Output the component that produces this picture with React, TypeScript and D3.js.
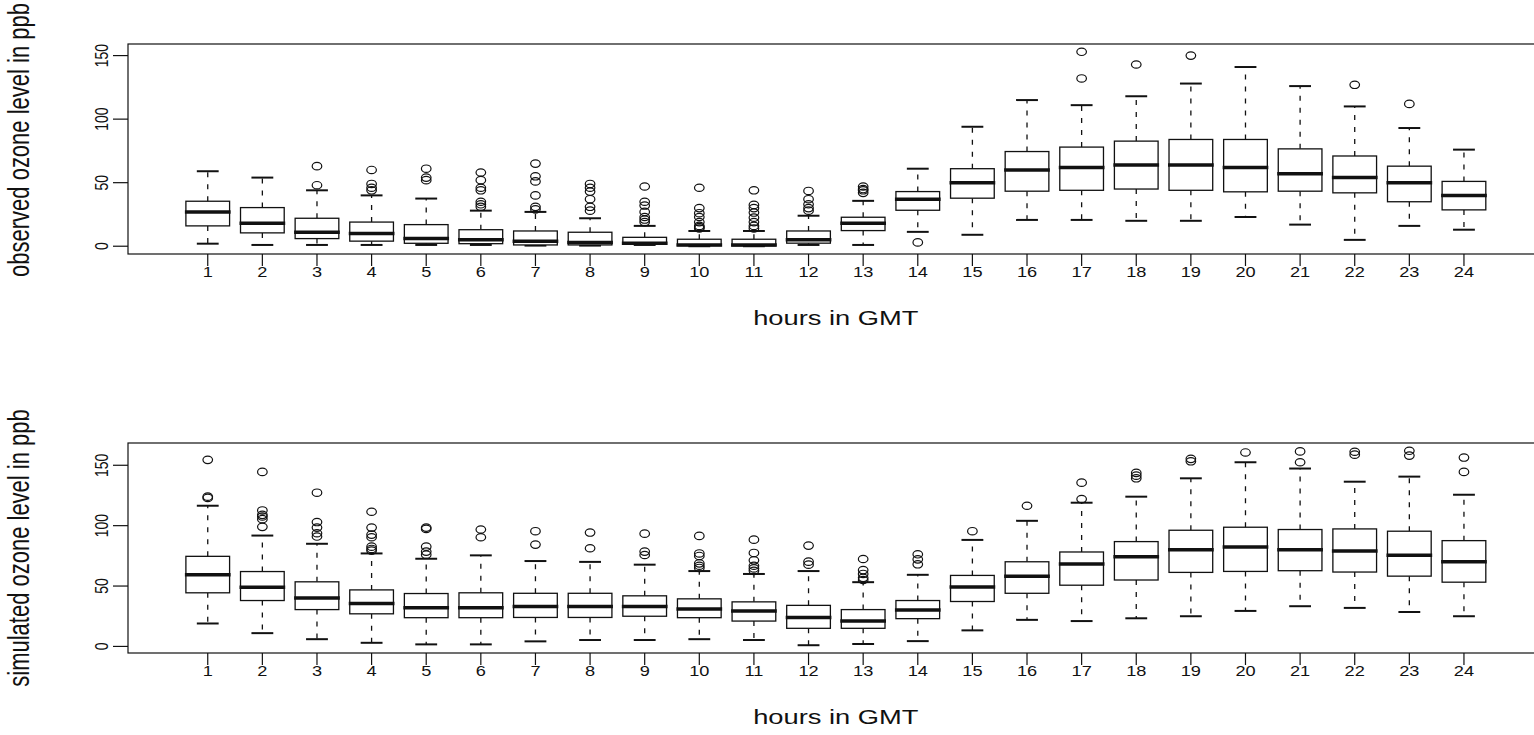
import React from "react";
import * as d3 from "d3";

const hours = ["1","2","3","4","5","6","7","8","9","10","11","12","13","14","15","16","17","18","19","20","21","22","23","24"];
const yTicks = [0, 50, 100, 150];

// observed
const obsLow = [2, 1, 1, 1, 1, 1, 0.5, 0.5, 1, 0, 0, 1, 1, 11.3, 9, 20.7, 20.7, 20, 20, 23, 17, 5, 16, 13];
const obsQ1 = [16, 10.5, 6, 4, 2.3, 2, 1, 1, 1.5, 0.5, 0.3, 2.4, 12.3, 28.3, 37.8, 43.3, 44, 45, 44, 42.8, 43.3, 42, 35, 28.6];
const obsMed = [27, 18, 11, 10, 6, 5, 4, 3, 2.4, 1, 1, 5, 18, 37, 50, 60, 62, 64, 64, 62, 57, 54, 50, 40];
const obsQ3 = [35.4, 30.4, 22, 19, 17, 13, 12, 11, 7, 5.5, 5.5, 12, 22.8, 43, 61, 74.5, 78, 82.7, 84, 84, 76.6, 71, 63, 51];
const obsHigh = [59, 54, 44, 40, 37.5, 28, 27, 22, 16, 12, 12, 24, 35.7, 61, 94, 115, 111, 118, 128, 141, 126, 110, 93, 76];
const obsOut = [
  [], [], [63, 48], [60, 49, 46, 44], [61, 54, 52], [58, 52, 46, 44, 35, 33, 31],
  [65, 55, 51, 40, 31, 29], [49, 46, 43, 37, 31, 28], [47, 35, 32, 27, 23, 21, 19],
  [46, 30, 26, 23, 19, 16, 15, 14], [44, 32.5, 30, 26.5, 22.5, 19, 16, 14],
  [43.5, 37, 33, 30, 28], [47, 45, 44, 42], [3], [], [], [153, 132], [143], [150], [], [], [127], [112], []
];

// simulated
const simLow = [19, 11, 6, 3, 1.7, 1.7, 4.2, 5.3, 5.3, 6, 5.3, 1, 2, 4.4, 13.3, 22, 21, 23.3, 25, 29.4, 33.3, 31.9, 28.5, 25];
const simQ1 = [44.4, 38, 30.5, 27, 23.8, 23.8, 24, 24, 25, 23.8, 21, 15, 15, 23, 37.2, 44, 50.7, 55, 61.3, 62.1, 62.7, 61.6, 58.2, 53.2];
const simMed = [59.3, 49, 40, 35.5, 32, 32, 33, 33, 33, 31, 29.4, 24, 21, 30.2, 49.3, 58.2, 68.2, 74.3, 80.1, 82.4, 80.1, 79, 75.4, 70.1];
const simQ3 = [74.6, 62, 53.5, 46.8, 43.8, 44.4, 44, 44, 41.9, 39.4, 36.9, 34, 30.5, 38, 58.8, 70.1, 78.2, 86.8, 96.2, 98.7, 96.8, 97.3, 95.4, 87.6];
const simHigh = [116.5, 91.8, 85, 77, 72.6, 75.4, 70.7, 70, 67.7, 62.4, 60, 62.4, 53.2, 59.3, 88.2, 104, 119, 124, 139.2, 152.5, 147.3, 136.4, 140.6, 125.6];
const simOut = [
  [154.5, 124, 123], [144.5, 112.6, 109, 107.6, 105.4, 99], [127.3, 103, 98.4, 93.7, 91],
  [111.5, 98.4, 92.6, 90.4, 82.6, 80.7, 79.3], [98.4, 97.3, 82.6, 78.5, 76], [96.8, 90.4],
  [95.4, 84.3], [94.3, 81.3], [93.4, 78.5, 75.7], [91.5, 77, 74.9, 68.8, 66.8, 65],
  [88.4, 77.4, 71.3, 66.8, 64.6, 62.6], [83.5, 70.2, 67.7], [72.4, 63.2, 60, 56.8, 55],
  [76.3, 72.1, 68], [95.4], [116.5], [135.6, 122], [143.7, 141.4, 139.2], [155.3, 153.3],
  [160.6], [161.5, 152.5], [161.2, 158.8], [162, 158], [156.4, 144.5]
];

const FONT = "'Liberation Sans', Arial, Helvetica, sans-serif";
const INK = "#111";
const SX = 1.3;

type PanelProps = {
  top: number; bottom: number; ylab: string; ylabY: number;
  low: number[]; q1: number[]; med: number[]; q3: number[]; high: number[]; out: number[][];
};

const LEFT = 128;
const RIGHT = 1543.7;

function Panel(p: PanelProps) {
  const n = hours.length;
  const x = d3.scaleLinear().domain([0.5 - 0.04 * n, n + 0.5 + 0.04 * n]).range([LEFT, RIGHT]);
  const all = [...p.low, ...p.high, ...p.out.flat()];
  const [mn, mx] = d3.extent(all) as [number, number];
  const pad = (mx - mn) * 0.04;
  const y = d3.scaleLinear().domain([mn - pad, mx + pad]).range([p.bottom, p.top]);
  const step = x(2) - x(1);
  const bw = step * 0.8;
  const sw = bw * 0.5;
  return (
    <g>
      {hours.map((h, i) => {
        const cx = x(i + 1);
        return (
          <g key={h}>
            <line x1={cx} x2={cx} y1={y(p.q3[i])} y2={y(p.high[i])} stroke={INK} strokeWidth={1.3} strokeDasharray="5,7" />
            <line x1={cx} x2={cx} y1={y(p.q1[i])} y2={y(p.low[i])} stroke={INK} strokeWidth={1.3} strokeDasharray="5,7" />
            <line x1={cx - sw / 2} x2={cx + sw / 2} y1={y(p.high[i])} y2={y(p.high[i])} stroke={INK} strokeWidth={2} />
            <line x1={cx - sw / 2} x2={cx + sw / 2} y1={y(p.low[i])} y2={y(p.low[i])} stroke={INK} strokeWidth={2} />
            <rect x={cx - bw / 2} y={y(p.q3[i])} width={bw} height={y(p.q1[i]) - y(p.q3[i])} fill="white" stroke={INK} strokeWidth={1.3} />
            <line x1={cx - bw / 2 - 1} x2={cx + bw / 2 + 1} y1={y(p.med[i])} y2={y(p.med[i])} stroke={INK} strokeWidth={3.5} />
            {p.out[i].map((v, j) => (
              <ellipse key={j} cx={cx} cy={y(v)} rx={4.8} ry={3.7} fill="none" stroke={INK} strokeWidth={1.2} />
            ))}
          </g>
        );
      })}
      <rect x={LEFT} y={p.top} width={RIGHT - LEFT} height={p.bottom - p.top} fill="none" stroke={INK} strokeWidth={1.2} />
      {yTicks.map((t) => (
        <g key={t}>
          <line x1={LEFT - 15} x2={LEFT} y1={y(t)} y2={y(t)} stroke={INK} strokeWidth={1.2} />
          <text transform={`translate(${LEFT - 27},${y(t)}) scale(${SX},1) rotate(-90)`} textAnchor="middle" dominantBaseline="central" fontSize={14} fontFamily={FONT} fill={INK}>{t}</text>
        </g>
      ))}
      {hours.map((h, i) => (
        <g key={"t" + h}>
          <line x1={x(i + 1)} x2={x(i + 1)} y1={p.bottom} y2={p.bottom + 12} stroke={INK} strokeWidth={1.2} />
          <text transform={`translate(${x(i + 1)},${p.bottom + 18}) scale(${SX},1)`} textAnchor="middle" dominantBaseline="central" fontSize={14} fontFamily={FONT} fill={INK}>{h}</text>
        </g>
      ))}
      <text transform={`translate(${(LEFT + RIGHT) / 2},${p.bottom + 64}) scale(${SX},1)`} textAnchor="middle" dominantBaseline="central" fontSize={21} fontFamily={FONT} fill={INK}>hours in GMT</text>
      <text transform={`translate(19,${p.ylabY}) scale(${SX},1) rotate(-90)`} textAnchor="middle" dominantBaseline="central" fontSize={22} fontFamily={FONT} fill={INK}>{p.ylab}</text>
    </g>
  );
}

export default function App() {
  return (
    <svg width={1534} height={735} style={{ position: "absolute", left: 0, top: 0, background: "white" }}>
      <rect width={1534} height={735} fill="white" />
      <Panel top={44} bottom={254} ylabY={140} ylab="observed ozone level in ppb" low={obsLow} q1={obsQ1} med={obsMed} q3={obsQ3} high={obsHigh} out={obsOut} />
      <Panel top={443} bottom={653} ylabY={548} ylab="simulated ozone level in ppb" low={simLow} q1={simQ1} med={simMed} q3={simQ3} high={simHigh} out={simOut} />
    </svg>
  );
}
